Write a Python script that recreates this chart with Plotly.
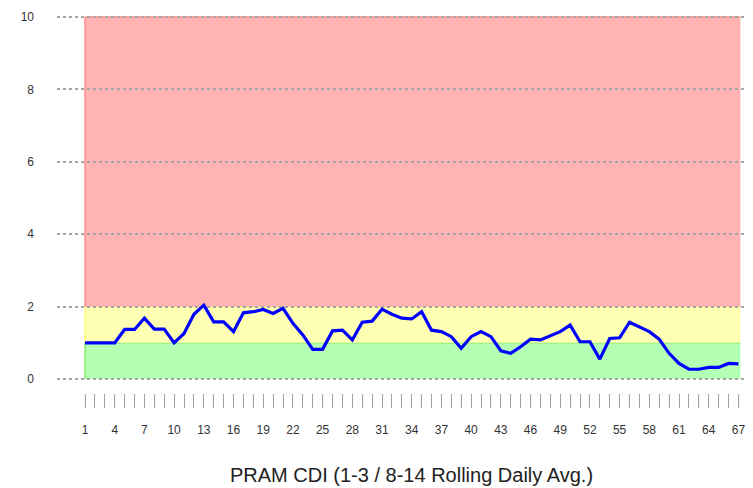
import plotly.graph_objects as go

# ---- data ----
days = list(range(1, 68))
cdi_values = [
    1.00, 1.00, 1.00, 1.00, 1.37, 1.37, 1.68, 1.38, 1.38, 1.00,
    1.26, 1.79, 2.04, 1.58, 1.58, 1.31, 1.83, 1.86, 1.92, 1.81,
    1.95, 1.54, 1.22, 0.82, 0.82, 1.33, 1.35, 1.08, 1.57, 1.60,
    1.93, 1.79, 1.68, 1.66, 1.86, 1.35, 1.31, 1.17, 0.85, 1.17,
    1.31, 1.17, 0.78, 0.71, 0.89, 1.10, 1.08, 1.20, 1.31, 1.49,
    1.03, 1.03, 0.55, 1.12, 1.14, 1.57, 1.45, 1.31, 1.10, 0.71,
    0.43, 0.27, 0.27, 0.32, 0.32, 0.43, 0.42,
]
tick_labels = [str(d) for d in days[::3]]
tick_days = days[::3]
zone_bounds = [0, 1, 2, 10]          # green / yellow / red
zone_fill = ["#B3FFB3", "#FFFFB3", "#FFB3B3"]
zone_edge = ["#8FE86A", "#FFFF7A", "#FF8C8C"]
y_ticks = [0, 2, 4, 6, 8, 10]
x_title = "PRAM CDI (1-3 / 8-14 Rolling Daily Avg.)"

fig = go.Figure()

shapes = []
for i in range(3):
    shapes.append(dict(type="rect", xref="x", yref="y",
                       x0=days[0], x1=days[-1] + 0.2,
                       y0=zone_bounds[i], y1=zone_bounds[i + 1],
                       fillcolor=zone_fill[i], line=dict(width=0), layer="below"))
    shapes.append(dict(type="line", xref="x", yref="y",
                       x0=days[0], x1=days[-1] + 0.2,
                       y0=zone_bounds[i + 1], y1=zone_bounds[i + 1],
                       line=dict(color=zone_edge[i], width=1.5), layer="below"))
    shapes.append(dict(type="line", xref="x", yref="y",
                       x0=days[0], x1=days[0],
                       y0=zone_bounds[i], y1=zone_bounds[i + 1],
                       line=dict(color=zone_edge[i], width=1.5), layer="below"))

fig.add_trace(go.Scatter(
    x=days, y=cdi_values, mode="lines",
    line=dict(color="#0000FF", width=3.2),
    hoverinfo="x+y", showlegend=False,
))

fig.add_annotation(
    x=(days[0] + days[-1]) / 2, xref="x", y=0, yref="paper",
    yshift=-82, yanchor="middle", showarrow=False,
    text=x_title, font=dict(family="Liberation Sans, Arial, sans-serif", size=20, color="#222222"),
)

fig.update_layout(
    width=745, height=480,
    margin=dict(l=49, r=3, t=8, b=95),
    paper_bgcolor="white", plot_bgcolor="white",
    shapes=shapes,
    font=dict(family="Liberation Sans, Arial, sans-serif", size=12, color="#333333"),
    xaxis=dict(
        range=[-1.83, 68.17], anchor="free", position=0,
        showgrid=False, zeroline=False, showline=False,
        tickmode="array", tickvals=tick_days, ticktext=tick_labels,
        ticks="outside", ticklen=14, tickcolor="#A0A0A0", tickwidth=1,
        ticklabelstandoff=12,
        minor=dict(tickmode="array", tickvals=days, ticks="outside",
                   ticklen=14, tickcolor="#A0A0A0", tickwidth=1, showgrid=False),
        tickfont=dict(size=12, color="#333333"),
    ),
    yaxis=dict(
        range=[-0.03, 10.03], domain=[0.0342, 1],
        tickvals=y_ticks, showgrid=True, gridcolor="#A5A5A5", gridwidth=1.6,
        griddash="3px,3px", zeroline=False, showline=False,
        ticks="", ticklabelstandoff=22,
        tickfont=dict(size=12, color="#333333"),
    ),
)

fig.write_html("out.html")
